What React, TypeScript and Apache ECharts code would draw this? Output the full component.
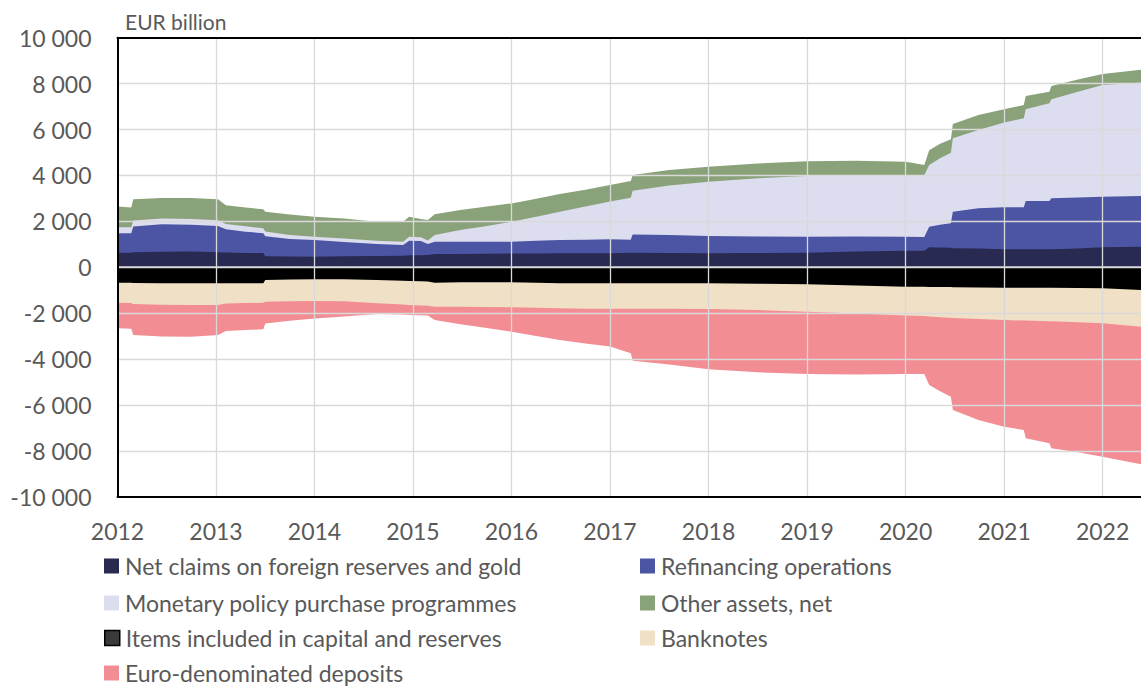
import React, { useEffect, useRef } from "react";
import * as echarts from "echarts";

// decimal-year sampling dates
const dates = [
  2012.0, 2012.14, 2012.16, 2012.45, 2012.75, 2013.02, 2013.1, 2013.3, 2013.48, 2013.5,
  2013.75, 2014.0, 2014.3, 2014.63, 2014.9, 2014.96, 2015.08, 2015.15, 2015.22, 2015.48, 2015.75,
  2016.0, 2016.25, 2016.49, 2016.75, 2017.0, 2017.21, 2017.23, 2017.6, 2018.0, 2018.5,
  2019.0, 2019.5, 2020.0, 2020.19, 2020.24, 2020.35, 2020.46, 2020.48, 2020.74, 2021.0,
  2021.2, 2021.22, 2021.46, 2021.48, 2021.75, 2022.0, 2022.39,
];

const netClaims = [
  630, 630, 650, 670, 680, 650, 640, 620, 620, 480, 470, 460, 480, 490, 500, 520, 525, 530, 575, 580, 590,
  600, 600, 605, 605, 605, 630, 630, 620, 605, 615, 630, 680, 720, 720, 870, 860, 850, 825, 820, 780,
  780, 780, 780, 780, 820, 867, 890,
];
const refinancing = [
  850, 850, 1120, 1200, 1170, 1150, 1010, 930, 860, 870, 760, 730, 620, 520, 470, 630, 615, 480, 535, 530, 520,
  510, 550, 585, 595, 610, 570, 800, 780, 755, 725, 700, 660, 610, 600, 890, 990, 1060, 1595, 1750, 1830,
  1830, 2100, 2100, 2220, 2220, 2203, 2210,
];
const purchaseProgrammes = [
  260, 260, 260, 250, 250, 250, 230, 230, 220, 210, 170, 140, 150, 140, 140, 180, 170, 150, 290, 510, 690,
  870, 1050, 1230, 1450, 1645, 1830, 1900, 2160, 2360, 2540, 2640, 2660, 2690, 2690, 2690, 2900, 3080, 3200, 3410, 3690,
  3880, 4000, 4260, 4320, 4610, 4870, 4950,
];
const otherAssets = [
  900, 860, 930, 900, 910, 910, 820, 820, 820, 860, 900, 870, 870, 830, 870, 870, 790, 900, 905, 870, 840,
  800, 780, 770, 730, 720, 730, 690, 670, 660, 640, 650, 640, 580, 440, 650, 630, 580, 620, 650, 580,
  580, 580, 510, 580, 530, 480, 550,
];
const capitalReserves = [
  -675, -675, -690, -700, -700, -700, -700, -700, -700, -560, -540, -527, -520, -560, -590, -600, -610, -620, -675, -660, -660,
  -660, -680, -700, -700, -700, -700, -700, -700, -700, -720, -745, -800, -850, -850, -860, -860, -860, -870, -880, -893,
  -893, -893, -900, -900, -910, -920, -990,
];
const banknotes = [
  -875, -885, -910, -940, -950, -950, -880, -860, -850, -940, -940, -945, -960, -1010, -1040, -1050, -1055, -1060, -1045, -1060, -1070,
  -1090, -1090, -1090, -1110, -1110, -1110, -1110, -1115, -1120, -1150, -1195, -1220, -1260, -1280, -1290, -1320, -1340, -1340, -1380, -1410,
  -1430, -1430, -1460, -1460, -1490, -1520, -1600,
];
const deposits = [
  -1110, -1120, -1350, -1380, -1380, -1300, -1200, -1180, -1150, -950, -850, -760, -670, -470, -430, -430, -425, -420, -580, -770, -920,
  -1060, -1230, -1380, -1510, -1650, -1940, -2270, -2430, -2630, -2710, -2710, -2650, -2540, -2520, -2980, -3220, -3440, -4010, -4400, -4650,
  -4770, -5130, -5310, -5530, -5660, -5820, -6000,
];

const positiveLayers = [
  { name: "Net claims on foreign reserves and gold", values: netClaims, color: "#292A51" },
  { name: "Refinancing operations", values: refinancing, color: "#4B55A3" },
  { name: "Monetary policy purchase programmes", values: purchaseProgrammes, color: "#DCDDEF" },
  { name: "Other assets, net", values: otherAssets, color: "#8AA279" },
];
const negativeLayers = [
  { name: "Items included in capital and reserves", values: capitalReserves, color: "#000000" },
  { name: "Banknotes", values: banknotes, color: "#F0E0C6" },
  { name: "Euro-denominated deposits", values: deposits, color: "#F28D93" },
];

// legend placement: [name, column, row]
const legendItems: [string, number, number][] = [
  ["Net claims on foreign reserves and gold", 0, 0],
  ["Refinancing operations", 1, 0],
  ["Monetary policy purchase programmes", 0, 1],
  ["Other assets, net", 1, 1],
  ["Items included in capital and reserves", 0, 2],
  ["Banknotes", 1, 2],
  ["Euro-denominated deposits", 0, 3],
];

const FONT = "Lato, 'Open Sans', sans-serif";
const TEXT = "#595959";

function fmt(v: number) {
  const s = Math.abs(v).toString().replace(/\B(?=(\d{3})+(?!\d))/g, " ");
  return (v < 0 ? "-" : "") + s;
}

// cumulative tops of stacked layers (each drawn as an area down to zero, biggest first)
function cumulative(layers: { values: number[] }[]) {
  const out: number[][] = [];
  layers.forEach((l, li) => {
    out.push(l.values.map((v, i) => v + (li > 0 ? out[li - 1][i] : 0)));
  });
  return out;
}

export default function App() {
  const ref = useRef<HTMLDivElement>(null);
  useEffect(() => {
    if (!ref.current) return;
    const chart = echarts.init(ref.current, undefined, { renderer: "svg" });
    const posCum = cumulative(positiveLayers);
    const negCum = cumulative(negativeLayers);
    const mk = (layer: { name: string; color: string }, vals: number[], extra: any = {}) => ({
      name: layer.name,
      type: "line",
      symbol: "none",
      silent: true,
      color: layer.color,
      itemStyle: { color: layer.color },
      lineStyle: { width: 0, color: layer.color },
      areaStyle: { color: layer.color, opacity: 1, origin: 0 },
      emphasis: { disabled: true },
      data: dates.map((d, i) => [d, vals[i]]),
      ...extra,
    });
    const series: any[] = [];
    for (let li = positiveLayers.length - 1; li >= 0; li--) series.push(mk(positiveLayers[li], posCum[li]));
    for (let li = negativeLayers.length - 1; li >= 0; li--) {
      const extra =
        li === 0
          ? {
              markLine: {
                silent: true,
                symbol: "none",
                label: { show: false },
                lineStyle: { color: "#C8C8D0", width: 1.5, type: "solid" },
                data: [{ yAxis: 0 }],
              },
            }
          : {};
      series.push(mk(negativeLayers[li], negCum[li], extra));
    }
    const legends = legendItems.map(([name, col, row]) => ({
      data: [
        name === "Items included in capital and reserves"
          ? { name, itemStyle: { color: "#3A3A3A", borderColor: "#000", borderWidth: 1.5 } }
          : { name },
      ],
      orient: "horizontal",
      left: col === 0 ? 104 : 640,
      top: [553, 590, 625, 660][row],
      padding: 0,
      itemWidth: 15,
      itemHeight: 15,
      itemGap: 0,
      icon: "rect",
      selectedMode: false,
      textStyle: { fontFamily: FONT, fontSize: 23, color: TEXT, lineHeight: 26, padding: [0, 0, 0, 1] },
    }));
    const xMin = 2012;
    const xMax = 2022.39;
    chart.setOption({
      animation: false,
      grid: {
        left: 117.5,
        top: 37.7,
        right: 0,
        bottom: 189.3,
        show: false,
      },
      legend: legends,
      graphic: [
        {
          type: "text",
          left: 125,
          top: 11,
          style: { text: "EUR billion", font: `21px ${FONT}`, fill: TEXT },
        },
      ],
      xAxis: [
        {
          type: "value",
          min: xMin,
          max: xMax,
          interval: 1,
          axisLine: { show: true, onZero: false, lineStyle: { color: "#000", width: 2 } },
          axisTick: { show: false },
          splitLine: {
            show: true,
            showMinLine: false,
            showMaxLine: false,
            lineStyle: { color: "#D9D9D9", width: 1.3 },
          },
          axisLabel: {
            margin: 23,
            fontFamily: FONT,
            fontSize: 23,
            color: TEXT,
            showMaxLabel: false,
            formatter: (v: number) => (Number.isInteger(v) ? String(v) : ""),
          },
          z: 10,
        },
        {
          type: "value",
          position: "top",
          min: xMin,
          max: xMax,
          interval: 1,
          axisLine: { show: true, onZero: false, lineStyle: { color: "#000", width: 2 } },
          axisTick: { show: false },
          axisLabel: { show: false },
          splitLine: { show: false },
          z: 10,
        },
      ],
      yAxis: {
        type: "value",
        min: -10000,
        max: 10000,
        interval: 2000,
        axisLine: { show: true, lineStyle: { color: "#000", width: 2 } },
        axisTick: { show: false },
        splitLine: {
          show: true,
          showMinLine: false,
          showMaxLine: false,
          lineStyle: { color: "#D9D9D9", width: 1.3 },
        },
        axisLabel: {
          margin: 26,
          fontFamily: FONT,
          fontSize: 23,
          color: TEXT,
          formatter: (v: number) => fmt(v),
        },
        z: 10,
      },
      series,
    });
    return () => chart.dispose();
  }, []);
  return (
    <div
      ref={ref}
      style={{ position: "absolute", left: 0, top: 0, width: 1141, height: 686 }}
    />
  );
}
